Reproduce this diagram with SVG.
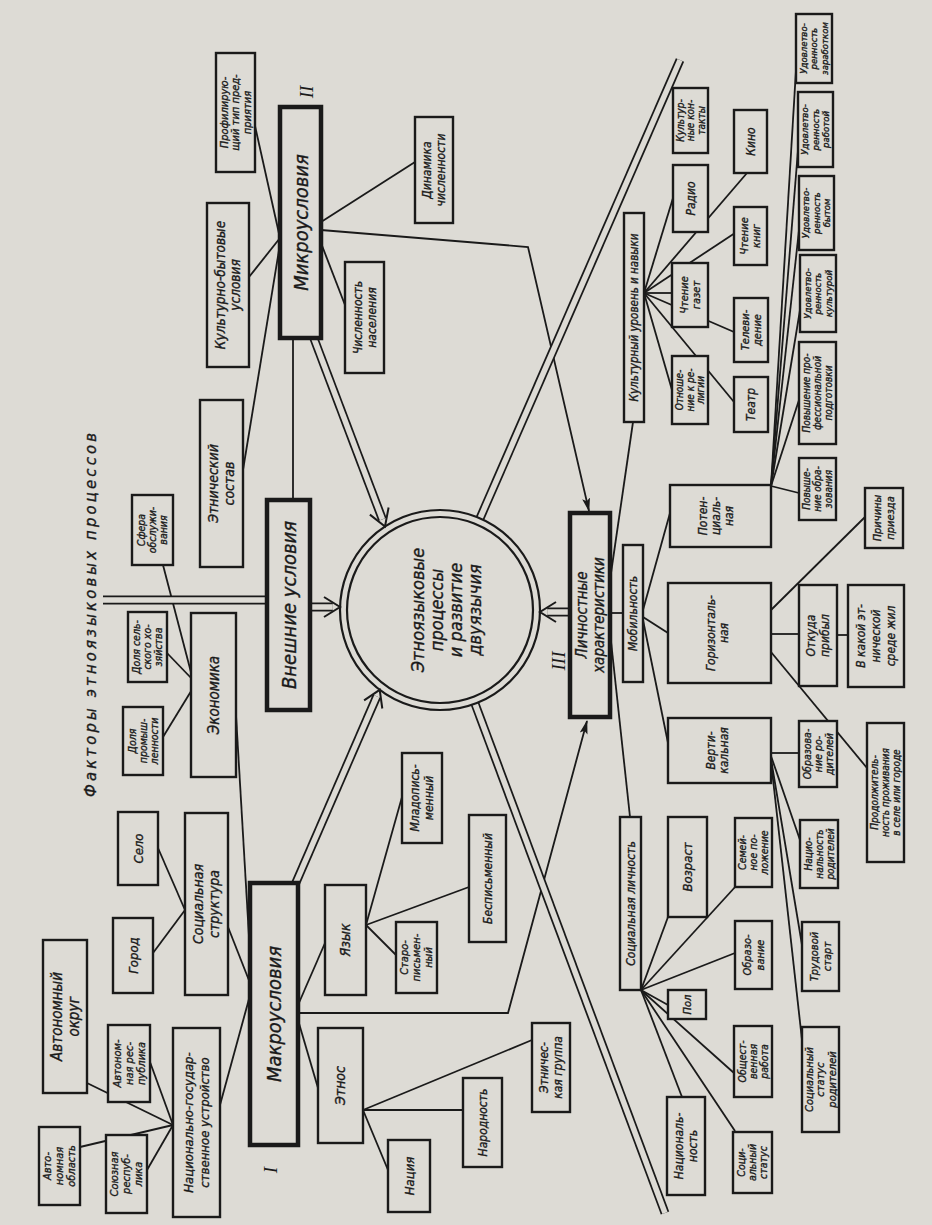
<svg xmlns="http://www.w3.org/2000/svg" width="932" height="1225" viewBox="0 0 932 1225">
<style>
.b{fill:#dddbd5;stroke:#1a1a1a;stroke-width:2.4}
.bt{stroke-width:4.5}
.t{font-family:"Liberation Sans Narrow","DejaVu Sans Condensed","Liberation Sans",Arial,sans-serif;font-style:italic;fill:#1a1a1a;stroke:#1a1a1a;stroke-width:0.35;text-anchor:middle}
.r{font-family:"Liberation Serif","Times New Roman",serif;font-style:italic;fill:#1a1a1a;text-anchor:middle}
.c{fill:none;stroke:#1a1a1a;stroke-width:1.8}
.so{fill:none;stroke:#1a1a1a;stroke-width:9}
.si{fill:none;stroke:#dddbd5;stroke-width:5.5}
.ch{fill:none;stroke:#1a1a1a;stroke-width:2;stroke-linejoin:miter}
</style>
<defs>
<marker id="ah" markerWidth="14" markerHeight="10" refX="13" refY="5" orient="auto" markerUnits="userSpaceOnUse"><path d="M0,1 L14,5 L0,9 L3,5 z" fill="#1a1a1a"/></marker>
</defs>
<rect x="0" y="0" width="932" height="1225" fill="#dddbd5"/>

<g id="connectors">
<path class="c" d="M253 117 L280 238"/>
<path class="c" d="M249 277 L280 238"/>
<path class="c" d="M243 470 L280 244"/>
<path class="c" d="M321 222 L415 162"/>
<path class="c" d="M321 243 L345 305"/>
<polyline class="c" points="321,230 528,247 589,511" marker-end="url(#ah)"/>
<path class="c" d="M293 338 L293 500"/>
<path class="c" d="M163 565 L193 680"/>
<path class="c" d="M167 653 L193 680"/>
<path class="c" d="M163 737 L193 688"/>
<path class="c" d="M236 715 L252 988"/>
<path class="c" d="M158 848 L185 910"/>
<path class="c" d="M153 953 L185 910"/>
<path class="c" d="M228 927 L252 988"/>
<path class="c" d="M220 1105 L252 988"/>
<path class="c" d="M87 1083 L173 1125"/>
<path class="c" d="M150 1062 L173 1125"/>
<path class="c" d="M80 1147 L173 1125"/>
<path class="c" d="M147 1170 L173 1125"/>
<path class="c" d="M298 1005 L325 943"/>
<polyline class="c" points="298,1013 508,1013 587,721" marker-end="url(#ah)"/>
<path class="c" d="M298 1020 L318 1088"/>
<path class="c" d="M366 925 L402 797"/>
<path class="c" d="M366 925 L469 887"/>
<path class="c" d="M366 925 L396 955"/>
<path class="c" d="M363 1110 L532 1040"/>
<path class="c" d="M363 1110 L463 1110"/>
<path class="c" d="M363 1110 L388 1170"/>
<path class="c" d="M610 580 L633 422"/>
<path class="c" d="M610 613 L623 613"/>
<path class="c" d="M610 632 L630 817"/>
<path class="c" d="M644 293 L673 198"/>
<path class="c" d="M644 293 L747 173"/>
<path class="c" d="M644 293 L672 293"/>
<path class="c" d="M644 293 L735 233"/>
<path class="c" d="M644 293 L734 332"/>
<path class="c" d="M644 293 L672 390"/>
<path class="c" d="M644 293 L734 402"/>
<path class="c" d="M771 486 L796 70"/>
<path class="c" d="M771 486 L798 150"/>
<path class="c" d="M771 486 L799 230"/>
<path class="c" d="M771 486 L800 310"/>
<path class="c" d="M771 486 L799 400"/>
<path class="c" d="M771 486 L799 493"/>
<path class="c" d="M643 610 L670 513"/>
<path class="c" d="M643 617 L668 633"/>
<path class="c" d="M643 620 L668 743"/>
<path class="c" d="M771 610 L865 517"/>
<path class="c" d="M771 634 L799 634"/>
<path class="c" d="M837 635 L848 635"/>
<path class="c" d="M771 652 L867 768"/>
<path class="c" d="M771 753 L799 753"/>
<path class="c" d="M771 756 L800 840"/>
<path class="c" d="M771 759 L802 945"/>
<path class="c" d="M771 761 L802 1040"/>
<path class="c" d="M641 990 L668 917"/>
<path class="c" d="M641 990 L736 886"/>
<path class="c" d="M641 990 L735 953"/>
<path class="c" d="M641 990 L668 1005"/>
<path class="c" d="M641 990 L734 1073"/>
<path class="c" d="M641 990 L735 1131"/>
<path class="c" d="M641 990 L682 1097"/>
<path class="so" d="M313 336 L382.4 519.3"/><path class="si" d="M313 336 L382.4 519.3"/>
<path class="so" d="M294 887 L376.8 696.4"/><path class="si" d="M294 887 L376.8 696.4"/>
<path class="so" d="M309 607 L332.8 607"/><path class="si" d="M309 607 L332.8 607"/>
<path class="so" d="M571 612 L547.2 612"/><path class="si" d="M571 612 L547.2 612"/>
<path class="so" d="M476.8 525.6 L680 60"/><path class="si" d="M476.8 525.6 L680 60"/>
<path class="so" d="M472.2 696.2 L665 1213"/><path class="si" d="M472.2 696.2 L665 1213"/>
<path class="so" d="M103 600 L268 600"/><path class="si" d="M103 600 L268 600"/>
</g>

<g id="n_circle">
<circle cx="440" cy="610" r="100" fill="#dddbd5" stroke="#1a1a1a" stroke-width="2.2"/>
<circle cx="440" cy="610" r="93" fill="none" stroke="#1a1a1a" stroke-width="2.2"/>
<text class="t" font-size="18" transform="translate(446 610) rotate(-90)"><tspan x="0" y="-22.2">Этноязыковые</tspan><tspan x="0" y="-3.2">процессы</tspan><tspan x="0" y="15.8">и развитие</tspan><tspan x="0" y="34.8">двуязычия</tspan></text>
</g>

<g id="arrowheads">
<polyline class="ch" points="369.9,514.6 385,526.5 388.6,507.5"/>
<polyline class="ch" points="382.3,708.5 379.7,689.8 364.1,700.3"/>
<polyline class="ch" points="324,597 340,607 324,617"/>
<polyline class="ch" points="556,602 540,612 556,622"/>
</g>

<g id="n_prof"><rect class="b" x="216" y="53" width="39" height="119"/><text class="t" font-size="11" transform="translate(235.5 112.5) rotate(-90)"><tspan x="0" y="-7.65">Профилирую-</tspan><tspan x="0" y="3.85">щий тип пред-</tspan><tspan x="0" y="15.35">приятия</tspan></text></g>
<g id="n_kultbyt"><rect class="b" x="207" y="203" width="42" height="164"/><text class="t" font-size="13.5" transform="translate(228 285) rotate(-90)"><tspan x="0" y="-3">Культурно-бытовые</tspan><tspan x="0" y="12.4">условия</tspan></text></g>
<g id="n_micro"><rect class="b bt" x="280" y="107" width="41" height="231"/><text class="t" font-size="20" transform="translate(300.5 222.5) rotate(-90)"><tspan x="0" y="7">Микроусловия</tspan></text></g>
<g id="n_dinam"><rect class="b" x="415" y="117" width="38" height="106"/><text class="t" font-size="12" transform="translate(434 170) rotate(-90)"><tspan x="0" y="-2.8">Динамика</tspan><tspan x="0" y="11.2">численности</tspan></text></g>
<g id="n_chisl"><rect class="b" x="345" y="262" width="39" height="111"/><text class="t" font-size="12" transform="translate(364.5 317.5) rotate(-90)"><tspan x="0" y="-2.8">Численность</tspan><tspan x="0" y="11.2">населения</tspan></text></g>
<g id="n_etnsost"><rect class="b" x="200" y="400" width="43" height="167"/><text class="t" font-size="14" transform="translate(221.5 483.5) rotate(-90)"><tspan x="0" y="-3.1">Этнический</tspan><tspan x="0" y="12.9">состав</tspan></text></g>
<g id="n_sfera"><rect class="b" x="132" y="495" width="41" height="70"/><text class="t" font-size="10.5" transform="translate(152.5 530) rotate(-90)"><tspan x="0" y="-7.3">Сфера</tspan><tspan x="0" y="3.7">обслужи-</tspan><tspan x="0" y="14.7">вания</tspan></text></g>
<g id="n_vnesh"><rect class="b bt" x="267" y="500" width="43" height="210"/><text class="t" font-size="20" transform="translate(288.5 605) rotate(-90)"><tspan x="0" y="7">Внешние условия</tspan></text></g>
<g id="n_dolyas"><rect class="b" x="128" y="612" width="39" height="70"/><text class="t" font-size="10.5" transform="translate(147.5 647) rotate(-90)"><tspan x="0" y="-7.3">Доля сель-</tspan><tspan x="0" y="3.7">ского хо-</tspan><tspan x="0" y="14.7">зяйства</tspan></text></g>
<g id="n_dolyap"><rect class="b" x="123" y="707" width="40" height="68"/><text class="t" font-size="10.5" transform="translate(143 741) rotate(-90)"><tspan x="0" y="-7.3">Доля</tspan><tspan x="0" y="3.7">промыш-</tspan><tspan x="0" y="14.7">ленности</tspan></text></g>
<g id="n_ekon"><rect class="b" x="191" y="613" width="45" height="164"/><text class="t" font-size="15" transform="translate(213.5 695) rotate(-90)"><tspan x="0" y="5.25">Экономика</tspan></text></g>
<g id="n_selo"><rect class="b" x="118" y="812" width="40" height="73"/><text class="t" font-size="13" transform="translate(138 848.5) rotate(-90)"><tspan x="0" y="4.55">Село</tspan></text></g>
<g id="n_socstr"><rect class="b" x="185" y="813" width="43" height="182"/><text class="t" font-size="14" transform="translate(206.5 904) rotate(-90)"><tspan x="0" y="-3.1">Социальная</tspan><tspan x="0" y="12.9">структура</tspan></text></g>
<g id="n_gorod"><rect class="b" x="113" y="918" width="40" height="75"/><text class="t" font-size="13" transform="translate(133 955.5) rotate(-90)"><tspan x="0" y="4.55">Город</tspan></text></g>
<g id="n_avtokr"><rect class="b" x="43" y="940" width="44" height="153"/><text class="t" font-size="15" transform="translate(65 1016.5) rotate(-90)"><tspan x="0" y="-3.25">Автономный</tspan><tspan x="0" y="13.75">округ</tspan></text></g>
<g id="n_avtresp"><rect class="b" x="108" y="1025" width="42" height="77"/><text class="t" font-size="11" transform="translate(129 1063.5) rotate(-90)"><tspan x="0" y="-8.15">Автоном-</tspan><tspan x="0" y="3.85">ная рес-</tspan><tspan x="0" y="15.85">публика</tspan></text></g>
<g id="n_nacgos"><rect class="b" x="173" y="1028" width="47" height="189"/><text class="t" font-size="13" transform="translate(196.5 1122.5) rotate(-90)"><tspan x="0" y="-3.45">Национально-государ-</tspan><tspan x="0" y="12.55">ственное устройство</tspan></text></g>
<g id="n_avtobl"><rect class="b" x="39" y="1127" width="41" height="78"/><text class="t" font-size="11" transform="translate(59.5 1166) rotate(-90)"><tspan x="0" y="-8.15">Авто-</tspan><tspan x="0" y="3.85">номная</tspan><tspan x="0" y="15.85">область</tspan></text></g>
<g id="n_soyuz"><rect class="b" x="106" y="1135" width="41" height="78"/><text class="t" font-size="11" transform="translate(126.5 1174) rotate(-90)"><tspan x="0" y="-8.15">Союзная</tspan><tspan x="0" y="3.85">респуб-</tspan><tspan x="0" y="15.85">лика</tspan></text></g>
<g id="n_macro"><rect class="b bt" x="250" y="883" width="48" height="262"/><text class="t" font-size="20" transform="translate(274 1014) rotate(-90)"><tspan x="0" y="7">Макроусловия</tspan></text></g>
<g id="n_yazyk"><rect class="b" x="325" y="885" width="41" height="110"/><text class="t" font-size="14" transform="translate(345.5 940) rotate(-90)"><tspan x="0" y="4.9">Язык</tspan></text></g>
<g id="n_staro"><rect class="b" x="396" y="922" width="41" height="71"/><text class="t" font-size="11" transform="translate(416.5 957.5) rotate(-90)"><tspan x="0" y="-8.15">Старо-</tspan><tspan x="0" y="3.85">письмен-</tspan><tspan x="0" y="15.85">ный</tspan></text></g>
<g id="n_bespis"><rect class="b" x="469" y="815" width="37" height="127"/><text class="t" font-size="12" transform="translate(487.5 878.5) rotate(-90)"><tspan x="0" y="4.2">Бесписьменный</tspan></text></g>
<g id="n_mlado"><rect class="b" x="402" y="753" width="40" height="90"/><text class="t" font-size="12" transform="translate(422 798) rotate(-90)"><tspan x="0" y="-2.8">Младопись-</tspan><tspan x="0" y="11.2">менный</tspan></text></g>
<g id="n_etnos"><rect class="b" x="318" y="1028" width="45" height="115"/><text class="t" font-size="14" transform="translate(340.5 1085.5) rotate(-90)"><tspan x="0" y="4.9">Этнос</tspan></text></g>
<g id="n_narod"><rect class="b" x="463" y="1078" width="39" height="89"/><text class="t" font-size="12" transform="translate(482.5 1122.5) rotate(-90)"><tspan x="0" y="4.2">Народность</tspan></text></g>
<g id="n_etngr"><rect class="b" x="532" y="1023" width="38" height="89"/><text class="t" font-size="12" transform="translate(551 1067.5) rotate(-90)"><tspan x="0" y="-2.8">Этничес-</tspan><tspan x="0" y="11.2">кая группа</tspan></text></g>
<g id="n_naciya"><rect class="b" x="388" y="1140" width="42" height="72"/><text class="t" font-size="13" transform="translate(409 1176) rotate(-90)"><tspan x="0" y="4.55">Нация</tspan></text></g>
<g id="n_lich"><rect class="b bt" x="570" y="513" width="40" height="204"/><text class="t" font-size="15" transform="translate(590 615) rotate(-90)"><tspan x="0" y="-3.25">Личностные</tspan><tspan x="0" y="13.75">характеристики</tspan></text></g>
<g id="n_kultur"><rect class="b" x="624" y="213" width="20" height="209"/><text class="t" font-size="11.5" transform="translate(634 317.5) rotate(-90)"><tspan x="0" y="4">Культурный уровень и навыки</tspan></text></g>
<g id="n_kultkont"><rect class="b" x="673" y="88" width="35" height="65"/><text class="t" font-size="10" transform="translate(690.5 120.5) rotate(-90)"><tspan x="0" y="-7">Культур-</tspan><tspan x="0" y="3.5">ные кон-</tspan><tspan x="0" y="14">такты</tspan></text></g>
<g id="n_radio"><rect class="b" x="673" y="165" width="35" height="67"/><text class="t" font-size="12" transform="translate(690.5 198.5) rotate(-90)"><tspan x="0" y="4.2">Радио</tspan></text></g>
<g id="n_kino"><rect class="b" x="734" y="110" width="33" height="63"/><text class="t" font-size="12" transform="translate(750.5 141.5) rotate(-90)"><tspan x="0" y="4.2">Кино</tspan></text></g>
<g id="n_chtgaz"><rect class="b" x="672" y="263" width="36" height="64"/><text class="t" font-size="11" transform="translate(690 295) rotate(-90)"><tspan x="0" y="-2.15">Чтение</tspan><tspan x="0" y="9.85">газет</tspan></text></g>
<g id="n_chtkn"><rect class="b" x="734" y="207" width="33" height="58"/><text class="t" font-size="11" transform="translate(750.5 236) rotate(-90)"><tspan x="0" y="-2.15">Чтение</tspan><tspan x="0" y="9.85">книг</tspan></text></g>
<g id="n_telev"><rect class="b" x="734" y="298" width="34" height="64"/><text class="t" font-size="11" transform="translate(751 330) rotate(-90)"><tspan x="0" y="-2.15">Телеви-</tspan><tspan x="0" y="9.85">дение</tspan></text></g>
<g id="n_otnosh"><rect class="b" x="672" y="356" width="36" height="68"/><text class="t" font-size="10" transform="translate(690 390) rotate(-90)"><tspan x="0" y="-7">Отноше-</tspan><tspan x="0" y="3.5">ние к ре-</tspan><tspan x="0" y="14">лигии</tspan></text></g>
<g id="n_teatr"><rect class="b" x="734" y="377" width="34" height="55"/><text class="t" font-size="12" transform="translate(751 404.5) rotate(-90)"><tspan x="0" y="4.2">Театр</tspan></text></g>
<g id="n_udzar"><rect class="b" x="796" y="14" width="36" height="69"/><text class="t" font-size="9.5" transform="translate(814 48.5) rotate(-90)"><tspan x="0" y="-7.2">Удовлетво-</tspan><tspan x="0" y="3.3">ренность</tspan><tspan x="0" y="13.8">заработком</tspan></text></g>
<g id="n_udrab"><rect class="b" x="798" y="92" width="35" height="75"/><text class="t" font-size="9.5" transform="translate(815.5 129.5) rotate(-90)"><tspan x="0" y="-7.2">Удовлетво-</tspan><tspan x="0" y="3.3">ренность</tspan><tspan x="0" y="13.8">работой</tspan></text></g>
<g id="n_udbyt"><rect class="b" x="799" y="176" width="35" height="74"/><text class="t" font-size="9.5" transform="translate(816.5 213) rotate(-90)"><tspan x="0" y="-7.2">Удовлетво-</tspan><tspan x="0" y="3.3">ренность</tspan><tspan x="0" y="13.8">бытом</tspan></text></g>
<g id="n_udkult"><rect class="b" x="800" y="255" width="36" height="77"/><text class="t" font-size="9.5" transform="translate(818 293.5) rotate(-90)"><tspan x="0" y="-7.2">Удовлетво-</tspan><tspan x="0" y="3.3">ренность</tspan><tspan x="0" y="13.8">культурой</tspan></text></g>
<g id="n_povprof"><rect class="b" x="799" y="342" width="37" height="102"/><text class="t" font-size="10" transform="translate(817.5 393) rotate(-90)"><tspan x="0" y="-7.5">Повышение про-</tspan><tspan x="0" y="3.5">фессиональной</tspan><tspan x="0" y="14.5">подготовки</tspan></text></g>
<g id="n_povobr"><rect class="b" x="799" y="458" width="37" height="62"/><text class="t" font-size="10" transform="translate(817.5 489) rotate(-90)"><tspan x="0" y="-7.5">Повыше-</tspan><tspan x="0" y="3.5">ние обра-</tspan><tspan x="0" y="14.5">зования</tspan></text></g>
<g id="n_potenc"><rect class="b" x="670" y="485" width="101" height="62"/><text class="t" font-size="12" transform="translate(716 516) rotate(-90)"><tspan x="0" y="-8.8">Потен-</tspan><tspan x="0" y="4.2">циаль-</tspan><tspan x="0" y="17.2">ная</tspan></text></g>
<g id="n_mobil"><rect class="b" x="623" y="545" width="20" height="137"/><text class="t" font-size="12" transform="translate(633 613.5) rotate(-90)"><tspan x="0" y="4.2">Мобильность</tspan></text></g>
<g id="n_gorizont"><rect class="b" x="668" y="583" width="103" height="100"/><text class="t" font-size="12" transform="translate(717 633) rotate(-90)"><tspan x="0" y="-2.3">Горизонталь-</tspan><tspan x="0" y="10.7">ная</tspan></text></g>
<g id="n_vert"><rect class="b" x="668" y="718" width="103" height="65"/><text class="t" font-size="12" transform="translate(717 750.5) rotate(-90)"><tspan x="0" y="-2.3">Верти-</tspan><tspan x="0" y="10.7">кальная</tspan></text></g>
<g id="n_otkuda"><rect class="b" x="799" y="585" width="38" height="101"/><text class="t" font-size="12" transform="translate(818 635.5) rotate(-90)"><tspan x="0" y="-2.8">Откуда</tspan><tspan x="0" y="11.2">прибыл</tspan></text></g>
<g id="n_vkakoi"><rect class="b" x="848" y="585" width="56" height="102"/><text class="t" font-size="12" transform="translate(876 636) rotate(-90)"><tspan x="0" y="-10.8">В какой эт-</tspan><tspan x="0" y="4.2">нической</tspan><tspan x="0" y="19.2">среде жил</tspan></text></g>
<g id="n_prichiny"><rect class="b" x="865" y="488" width="38" height="60"/><text class="t" font-size="11" transform="translate(884 518) rotate(-90)"><tspan x="0" y="-2.65">Причины</tspan><tspan x="0" y="10.35">приезда</tspan></text></g>
<g id="n_prodolzh"><rect class="b" x="867" y="723" width="37" height="139"/><text class="t" font-size="10" transform="translate(885.5 792.5) rotate(-90)"><tspan x="0" y="-7.5">Продолжитель-</tspan><tspan x="0" y="3.5">ность проживания</tspan><tspan x="0" y="14.5">в селе или городе</tspan></text></g>
<g id="n_obrrod"><rect class="b" x="799" y="721" width="38" height="66"/><text class="t" font-size="10.5" transform="translate(818 754) rotate(-90)"><tspan x="0" y="-7.3">Образова-</tspan><tspan x="0" y="3.7">ние ро-</tspan><tspan x="0" y="14.7">дителей</tspan></text></g>
<g id="n_nacrod"><rect class="b" x="800" y="820" width="38" height="68"/><text class="t" font-size="10" transform="translate(819 854) rotate(-90)"><tspan x="0" y="-7.5">Нацио-</tspan><tspan x="0" y="3.5">нальность</tspan><tspan x="0" y="14.5">родителей</tspan></text></g>
<g id="n_trud"><rect class="b" x="802" y="922" width="37" height="69"/><text class="t" font-size="11" transform="translate(820.5 956.5) rotate(-90)"><tspan x="0" y="-2.65">Трудовой</tspan><tspan x="0" y="10.35">старт</tspan></text></g>
<g id="n_socstatrod"><rect class="b" x="802" y="1027" width="37" height="105"/><text class="t" font-size="11" transform="translate(820.5 1079.5) rotate(-90)"><tspan x="0" y="-7.65">Социальный</tspan><tspan x="0" y="3.85">статус</tspan><tspan x="0" y="15.35">родителей</tspan></text></g>
<g id="n_soclich"><rect class="b" x="620" y="817" width="21" height="173"/><text class="t" font-size="12" transform="translate(630.5 903.5) rotate(-90)"><tspan x="0" y="4.2">Социальная личность</tspan></text></g>
<g id="n_vozrast"><rect class="b" x="668" y="817" width="39" height="100"/><text class="t" font-size="13" transform="translate(687.5 867) rotate(-90)"><tspan x="0" y="4.55">Возраст</tspan></text></g>
<g id="n_semei"><rect class="b" x="735" y="818" width="37" height="69"/><text class="t" font-size="10.5" transform="translate(753.5 852.5) rotate(-90)"><tspan x="0" y="-7.3">Семей-</tspan><tspan x="0" y="3.7">ное по-</tspan><tspan x="0" y="14.7">ложение</tspan></text></g>
<g id="n_obraz"><rect class="b" x="735" y="921" width="37" height="68"/><text class="t" font-size="11" transform="translate(753.5 955) rotate(-90)"><tspan x="0" y="-2.65">Образо-</tspan><tspan x="0" y="10.35">вание</tspan></text></g>
<g id="n_pol"><rect class="b" x="668" y="990" width="38" height="29"/><text class="t" font-size="11" transform="translate(687 1004.5) rotate(-90)"><tspan x="0" y="3.85">Пол</tspan></text></g>
<g id="n_obshch"><rect class="b" x="734" y="1026" width="38" height="71"/><text class="t" font-size="10.5" transform="translate(753 1061.5) rotate(-90)"><tspan x="0" y="-7.3">Общест-</tspan><tspan x="0" y="3.7">венная</tspan><tspan x="0" y="14.7">работа</tspan></text></g>
<g id="n_socstat"><rect class="b" x="733" y="1132" width="39" height="61"/><text class="t" font-size="10.5" transform="translate(752.5 1162.5) rotate(-90)"><tspan x="0" y="-7.3">Соци-</tspan><tspan x="0" y="3.7">альный</tspan><tspan x="0" y="14.7">статус</tspan></text></g>
<g id="n_nacionaln"><rect class="b" x="667" y="1097" width="38" height="98"/><text class="t" font-size="12" transform="translate(686 1146) rotate(-90)"><tspan x="0" y="-2.8">Националь-</tspan><tspan x="0" y="11.2">ность</tspan></text></g>

<g id="labels">
<text class="t" font-size="16.5" transform="translate(90 615) rotate(-90)" textLength="364" lengthAdjust="spacing"><tspan x="0" y="5.8">Факторы  этноязыковых  процессов</tspan></text>
<text class="r" font-size="19" transform="translate(270 1170) rotate(-90)"><tspan x="0" y="6.6">I</tspan></text>
<text class="r" font-size="19" transform="translate(306 92) rotate(-90)"><tspan x="0" y="6.6">II</tspan></text>
<text class="r" font-size="19" transform="translate(558 661) rotate(-90)"><tspan x="0" y="6.6">III</tspan></text>
</g>
</svg>
